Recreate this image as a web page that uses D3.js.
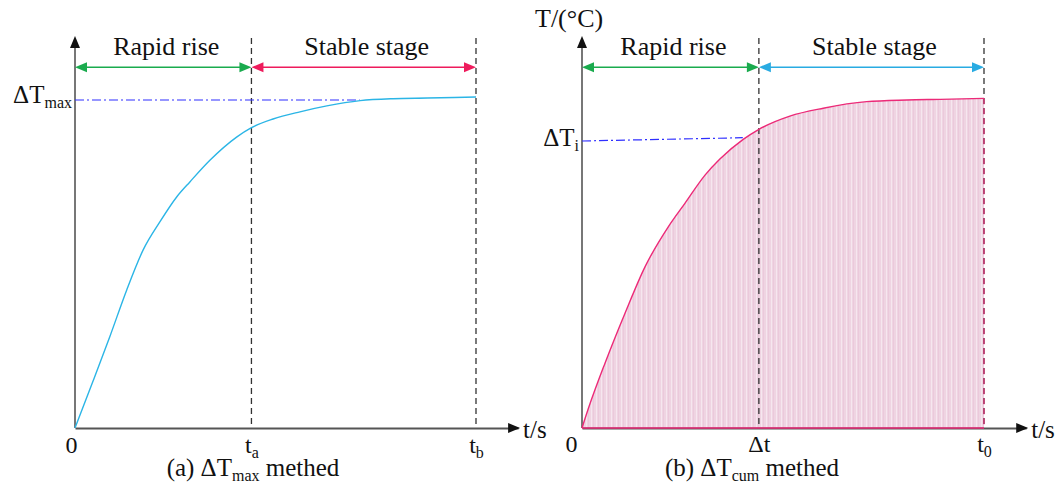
<!DOCTYPE html>
<html>
<head>
<meta charset="utf-8">
<script src="https://cdn.jsdelivr.net/npm/d3@7"></script>
<style>
  body { margin: 0; background: #fff; }
  #chart text { font-family: "Liberation Serif", "Times New Roman", Times, "DejaVu Serif", serif !important; fill: #111; }
</style>
</head>
<body>
<svg id="chart"></svg>
<script>
// values (t as % of tb / t0, T as % of the max temperature rise)
var curveA_t = [0, 4.6, 8.7, 12.9, 17.0, 21.2, 25.4, 28.7, 33.7, 40.3, 43.9, 49.4, 56.1, 62.8, 71.1, 79.3, 87.8, 100];
var curveA_T = [0, 14.6, 27.9, 42.1, 54.3, 62.9, 70.5, 75.1, 81.7, 88.7, 91.5, 94.2, 96.4, 98.2, 99.8, 100.4, 100.6, 100.9];
var curveB_t = [0, 1.6, 5.7, 10.7, 15.7, 21.5, 25.6, 30.6, 34.3, 40.1, 43.9, 51.7, 60.0, 70.8, 80.8, 89.1, 100];
var curveB_T = [0, 6.0, 19.7, 35.0, 49.2, 61.4, 68.5, 77.1, 82.0, 88.0, 91.0, 95.1, 97.5, 99.5, 100, 100.2, 100.5];

var splitT = 44;     // ta / Δt
var endT = 100;      // tb / t0
var axisEndT = 110.5;
var axisTopT = 119.5;
var phaseRowT = 110;
var dTmax = 100;
var dTiLine = [[0, 87.5], [40, 88.5]];

var phaseLabels = ['Rapid rise', 'Stable stage'];
var ticksA = [{v: 0, m: '0', s: ''}, {v: splitT, m: 't', s: 'a'}, {v: endT, m: 't', s: 'b'}];
var ticksB = [{v: 0, m: '0', s: ''}, {v: splitT, m: 'Δt', s: ''}, {v: endT, m: 't', s: '0'}];

var svg = d3.select('#chart').attr('width', 1057).attr('height', 491)
  .attr('font-family', '"Liberation Serif", "Times New Roman", serif');

// stripy pink fill used under the curve in (b)
var defs = svg.append('defs');
var pat = defs.append('pattern').attr('id', 'stripes')
  .attr('patternUnits', 'userSpaceOnUse').attr('width', 5).attr('height', 10);
pat.append('rect').attr('width', 5).attr('height', 10).attr('fill', '#efd4e2');
pat.append('rect').attr('x', 1).attr('width', 1).attr('height', 10).attr('fill', '#f6e6ef');
pat.append('rect').attr('x', 3).attr('width', 1).attr('height', 10).attr('fill', '#ebc9db');

var yScale = d3.scaleLinear().domain([0, 100]).range([428, 100]);

function zip(ts, vs) { return ts.map(function(t, i) { return [t, vs[i]]; }); }

function arrowHead(g, x, y, dir, color) {
  // dir: 'r', 'l', 'u'
  var L = 12, W = 5, p;
  if (dir === 'r') p = [[x, y], [x - L, y - W], [x - L, y + W]];
  else if (dir === 'l') p = [[x, y], [x + L, y - W], [x + L, y + W]];
  else p = [[x, y], [x - W, y + L], [x + W, y + L]];
  g.append('path').attr('d', 'M' + p.join('L') + 'Z').attr('fill', color);
}

function panel(opt) {
  var x = d3.scaleLinear().domain([0, endT]).range(opt.range);
  var g = svg.append('g');
  var y0 = yScale(0);

  // area (panel b only)
  if (opt.fill) {
    var area = d3.area().x(function(d) { return x(d[0]); })
      .y0(y0).y1(function(d) { return yScale(d[1]); })
      .curve(d3.curveMonotoneX);
    g.append('path').datum(opt.data).attr('d', area).attr('fill', 'url(#stripes)');
  }

  // dashed phase borders
  [splitT, endT].forEach(function(v) {
    g.append('line').attr('x1', x(v)).attr('x2', x(v))
      .attr('y1', yScale(axisTopT) + 2).attr('y2', y0)
      .attr('stroke', '#333').attr('stroke-width', 1.3).attr('stroke-dasharray', '6,4');
  });

  // x axis
  var xAxisScale = x.copy().domain([0, axisEndT]).range([x(0), x(axisEndT)]);
  var ax = g.append('g').attr('transform', 'translate(0,' + y0 + ')')
    .call(d3.axisBottom(xAxisScale).tickValues(opt.ticks.map(function(d) { return d.v; }))
      .tickSize(0).tickSizeOuter(0).tickFormat(''));
  ax.attr('font-family', null);
  ax.select('.domain').attr('stroke', '#555').attr('stroke-width', 2);
  ax.selectAll('.tick text').data(opt.ticks)
    .attr('y', 0).attr('dy', opt.tickY).attr('dx', function(d, i) { return i === 0 ? opt.zeroDx : 0; })
    .attr('font-size', 24).attr('fill', '#111')
    .each(function(d) {
      var t = d3.select(this);
      t.append('tspan').text(d.m);
      if (d.s) t.append('tspan').attr('font-size', 16).attr('dy', 5).text(d.s);
    });
  arrowHead(g, x(axisEndT) + 2, y0, 'r', '#111');
  g.append('text').attr('x', x(axisEndT) + 5).attr('y', y0 + 10)
    .attr('font-size', 25).text('t/s');

  // y axis
  g.append('line').attr('x1', x(0)).attr('x2', x(0))
    .attr('y1', yScale(axisTopT) + 8).attr('y2', y0)
    .attr('stroke', '#555').attr('stroke-width', 1.6);
  arrowHead(g, x(0), yScale(axisTopT), 'u', '#111');

  // dash-dot reference line + label
  var ref = opt.refLine;
  g.append('line').attr('x1', x(ref[0][0])).attr('y1', yScale(ref[0][1]))
    .attr('x2', x(ref[1][0])).attr('y2', yScale(ref[1][1]))
    .attr('stroke', '#2f2fff').attr('stroke-width', 1.2).attr('stroke-dasharray', '9,3,2,3');
  var lab = g.append('text').attr('x', x(0) - 3).attr('y', yScale(ref[0][1]) + opt.refDy)
    .attr('text-anchor', 'end').attr('font-size', 25);
  lab.append('tspan').text('ΔT');
  lab.append('tspan').attr('font-size', 16).attr('dy', 5).text(opt.refSub);

  // curve
  var line = d3.line().x(function(d) { return x(d[0]); }).y(function(d) { return yScale(d[1]); })
    .curve(d3.curveMonotoneX);
  g.append('path').datum(opt.data).attr('d', line)
    .attr('fill', 'none').attr('stroke', opt.color).attr('stroke-width', 1.4);
  if (opt.fill) {
    g.append('line').attr('x1', x(0)).attr('x2', x(endT)).attr('y1', y0).attr('y2', y0)
      .attr('stroke', opt.color).attr('stroke-width', 1.6);
    var last = opt.data[opt.data.length - 1];
    g.append('line').attr('x1', x(endT)).attr('x2', x(endT)).attr('y1', yScale(last[1])).attr('y2', y0)
      .attr('stroke', opt.color).attr('stroke-width', 1.2).attr('stroke-dasharray', '6,4');
  }

  // phase arrows
  var ry = yScale(phaseRowT);
  var spans = [[0, splitT, opt.arrowColors[0]], [splitT, endT, opt.arrowColors[1]]];
  spans.forEach(function(s, i) {
    g.append('line').attr('x1', x(s[0]) + 6).attr('x2', x(s[1]) - 6).attr('y1', ry).attr('y2', ry)
      .attr('stroke', s[2]).attr('stroke-width', 1.6);
    arrowHead(g, x(s[0]), ry, 'l', s[2]);
    arrowHead(g, x(s[1]), ry, 'r', s[2]);
    g.append('text').attr('x', (x(s[0]) + x(s[1])) / 2 + 3).attr('y', ry - 12)
      .attr('text-anchor', 'middle').attr('font-size', 26).text(phaseLabels[i]);
  });

  // caption
  var cap = g.append('text').attr('x', opt.capX).attr('y', 476)
    .attr('text-anchor', 'middle').attr('font-size', 25);
  cap.append('tspan').text(opt.capPre + ' ΔT');
  cap.append('tspan').attr('font-size', 16).attr('dy', 5).text(opt.capSub);
  cap.append('tspan').attr('dy', -5).text(' methed');
}

panel({
  range: [75, 476], data: zip(curveA_t, curveA_T), color: '#2bb5e6', fill: false,
  ticks: ticksA, tickY: 25, zeroDx: -4,
  refLine: [[0, dTmax], [71, dTmax]], refSub: 'max', refDy: 3,
  arrowColors: ['#1aab4e', '#ee1b5c'],
  capX: 253, capPre: '(a)', capSub: 'max'
});
panel({
  range: [582, 984], data: zip(curveB_t, curveB_T), color: '#ec2a78', fill: true,
  ticks: ticksB, tickY: 24, zeroDx: -11,
  refLine: dTiLine, refSub: 'i', refDy: 5,
  arrowColors: ['#1aab4e', '#29abe2'],
  capX: 752, capPre: '(b)', capSub: 'cum'
});

// y-axis title of (b)
svg.append('text').attr('x', 535).attr('y', 27).attr('font-size', 26).text('T/(°C)');
</script>
</body>
</html>
